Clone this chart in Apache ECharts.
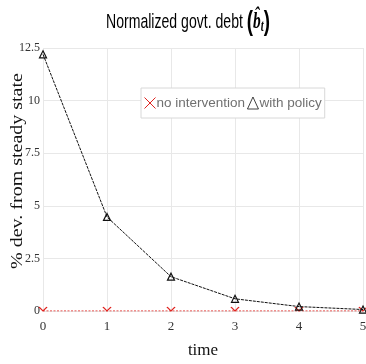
<!DOCTYPE html>
<html>
<head>
<meta charset="utf-8">
<script src="https://cdn.jsdelivr.net/npm/echarts@6/dist/echarts.min.js"></script>
<style>
  html, body { margin: 0; padding: 0; background: #fff; }
  #chart { width: 366px; height: 364px; }
</style>
</head>
<body>
<div id="chart"></div>
<script>
// Periods after the shock
const timeSteps = [0, 1, 2, 3, 4, 5];
// Government debt, % deviation from steady state
const noIntervention = [0, 0, 0, 0, 0, 0];
const withPolicy = [12.2, 4.47, 1.63, 0.58, 0.21, 0.07];
const yTicks = [0, 2.5, 5, 7.5, 10, 12.5];
const seriesNames = ['no intervention', 'with policy'];
const yAxisTitle = '% dev. from steady state';

const serif = 'Liberation Serif, Times New Roman, serif';
const sans = 'Liberation Sans, Arial, sans-serif';

const chart = echarts.init(document.getElementById('chart'), null, { renderer: 'canvas' });

chart.setOption({
  animation: false,
  backgroundColor: '#fff',
  graphic: [
    // condensed title: a sans text squeezed horizontally
    {
      type: 'text',
      x: 106,
      y: 8,
      scaleX: 0.67,
      style: {
        text: '{n|Normalized govt. debt }{p|(}{b|b̂}{s|t}{p|)}',
        textVerticalAlign: 'top',
        rich: {
          n: { fontFamily: sans, fontSize: 21, color: '#111', verticalAlign: 'middle' },
          p: { fontFamily: sans, fontSize: 28, fontWeight: 'bold', color: '#111' },
          b: { fontFamily: serif, fontSize: 23, fontWeight: 'bold', fontStyle: 'italic', color: '#111' },
          s: { fontFamily: serif, fontSize: 16, fontWeight: 'bold', fontStyle: 'italic', color: '#111', padding: [10, 0, 0, 0] }
        }
      }
    },
    // vertical axis title, glyphs narrowed across the reading direction
    {
      type: 'text',
      x: 18,
      y: 171,
      rotation: Math.PI / 2,
      scaleY: 0.8,
      style: {
        text: yAxisTitle,
        fontFamily: serif,
        fontSize: 20,
        fill: '#111',
        textAlign: 'center',
        textVerticalAlign: 'middle'
      }
    }
  ],
  legend: {
    data: [
      { name: seriesNames[0], icon: 'path://M0,0L10,10M10,0L0,10', itemStyle: { borderWidth: 1 } },
      { name: seriesNames[1], icon: 'triangle', itemStyle: { borderWidth: 0.8 } }
    ],
    left: 141,
    top: 88,
    orient: 'horizontal',
    padding: [8, 3, 8, 3],
    itemGap: 2,
    itemWidth: 11,
    itemHeight: 12,
    backgroundColor: '#fff',
    borderColor: '#d8d8d8',
    borderWidth: 1,
    textStyle: { fontFamily: sans, fontSize: 13.5, color: '#707070', padding: [0, 0, 0, -4] }
  },
  grid: { left: 43, right: 3, top: 48, bottom: 53, containLabel: false, outerBoundsMode: 'none' },
  xAxis: {
    type: 'value',
    min: 0,
    max: 5,
    interval: 1,
    name: 'time',
    nameLocation: 'middle',
    nameGap: 31,
    nameMoveOverlap: false,
    nameTextStyle: { fontFamily: serif, fontSize: 17, color: '#111' },
    axisLine: { show: false },
    axisTick: { show: false },
    axisLabel: { fontFamily: serif, fontSize: 13, color: '#333', margin: 9 },
    splitLine: { show: true, lineStyle: { color: '#e8e8e8', width: 1 } }
  },
  yAxis: {
    type: 'value',
    min: 0,
    max: 12.5,
    interval: 2.5,
    axisLine: { show: false },
    axisTick: { show: false },
    axisLabel: {
      fontFamily: serif, fontSize: 12, color: '#333', margin: 3,
      formatter: v => yTicks.includes(v) ? String(v) : ''
    },
    splitLine: { show: true, lineStyle: { color: '#e8e8e8', width: 1 } }
  },
  series: [
    {
      name: seriesNames[0],
      type: 'line',
      data: timeSteps.map((t, i) => [t, noIntervention[i]]),
      // upper half of a cross: the lower half sits below the plot floor
      symbol: 'path://M0,0L5,5L10,0',
      symbolSize: [8, 4],
      symbolOffset: [0, -2],
      itemStyle: { color: 'transparent', borderColor: '#e0231f', borderWidth: 1 },
      lineStyle: { color: '#e0231f', width: 1, type: [2, 1.5] },
      z: 2
    },
    {
      name: seriesNames[1],
      type: 'line',
      data: timeSteps.map((t, i) => [t, withPolicy[i]]),
      symbol: 'triangle',
      symbolSize: 7,
      itemStyle: { color: 'transparent', borderColor: '#111', borderWidth: 1.2 },
      lineStyle: { color: '#111', width: 1, type: [3, 1] },
      z: 3
    }
  ]
});
</script>
</body>
</html>
